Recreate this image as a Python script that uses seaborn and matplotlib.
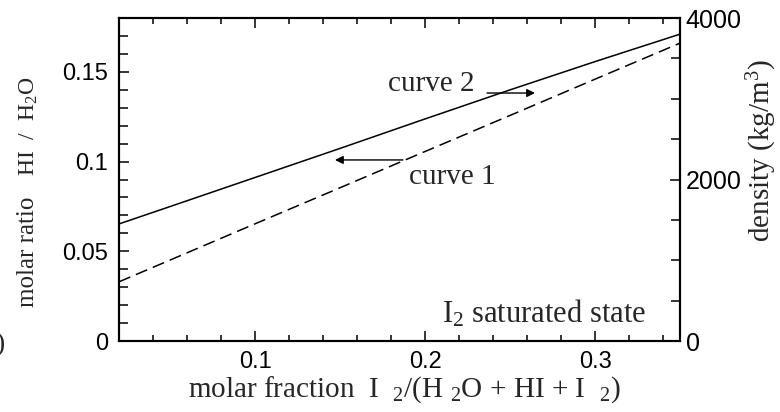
import matplotlib
matplotlib.use("Agg")
import matplotlib.pyplot as plt
import seaborn as sns
import pandas as pd
from matplotlib.ticker import MultipleLocator, FuncFormatter

# values
mole_fraction = [0.02, 0.05, 0.10, 0.15, 0.20, 0.25, 0.30, 0.35]
molar_ratio = [0.033, 0.0451, 0.0653, 0.0854, 0.1056, 0.1257, 0.1459, 0.166]   # curve 1 (left axis)
density = [1450, 1665, 2025, 2385, 2750, 3110, 3460, 3800]                     # curve 2 (right axis)

x_ticks = [0.1, 0.2, 0.3]
left_ticks = [0, 0.05, 0.1, 0.15]
right_ticks = [0, 2000, 4000]

df = pd.DataFrame({"x": mole_fraction, "ratio": molar_ratio, "density": density})

sns.set_theme(style="ticks")
plt.rcParams["font.family"] = ["Liberation Sans", "DejaVu Sans"]
plt.rcParams["mathtext.default"] = "regular"
serif = ["Liberation Serif", "DejaVu Serif"]

fig = plt.figure(figsize=(7.8, 4.12), dpi=100)
ax = fig.add_axes([0.1526, 0.1723, 0.7192, 0.784])
ax2 = ax.twinx()

sns.lineplot(data=df, x="x", y="ratio", ax=ax, color="black", lw=1.1)
ax.lines[-1].set_dashes((8, 4))
sns.lineplot(data=df, x="x", y="density", ax=ax2, color="black", lw=1.1)

ax.set_xlim(0.02, 0.35)
ax.set_ylim(0, 0.18)
ax2.set_ylim(0, 4000)

fmt = FuncFormatter(lambda v, p: "%g" % v)
ax.set_xticks(x_ticks)
ax.xaxis.set_minor_locator(MultipleLocator(0.02))
ax.set_yticks(left_ticks)
ax.yaxis.set_minor_locator(MultipleLocator(0.01))
ax.xaxis.set_major_formatter(fmt)
ax.yaxis.set_major_formatter(fmt)
ax2.set_yticks(right_ticks)
ax2.yaxis.set_minor_locator(MultipleLocator(500))
ax2.yaxis.set_major_formatter(fmt)

ax.set_xlabel("")
ax.set_ylabel("")
ax2.set_ylabel("")

for a in (ax, ax2):
    for s in a.spines.values():
        s.set_linewidth(1.5)
        s.set_visible(True)
        s.set_color("black")

ax.tick_params(axis="both", which="both", direction="in", top=True, right=False,
               labelsize=17, colors="black", width=1.1)
ax.tick_params(axis="both", which="major", length=7.5)
ax.tick_params(axis="x", which="minor", length=4)
ax.tick_params(axis="y", which="minor", length=6.5)
ax.tick_params(axis="x", which="major", pad=7)
ax.tick_params(axis="y", which="major", pad=8)
ax2.tick_params(axis="y", which="both", direction="in", labelsize=18, colors="black",
                width=1.1, pad=4)
ax2.tick_params(axis="y", which="major", length=7.5)
ax2.tick_params(axis="y", which="minor", length=6.5)

# annotations
ax2.annotate("", xy=(0.2647, 3071), xytext=(0.2365, 3071),
             arrowprops=dict(arrowstyle="-|>", color="black", lw=1.0, mutation_scale=12,
                             shrinkA=0, shrinkB=0))
ax2.text(0.2294, 3090, "curve 2", ha="right", va="baseline", fontsize=21, family=serif)
ax.annotate("", xy=(0.147, 0.1009), xytext=(0.187, 0.1009),
            arrowprops=dict(arrowstyle="-|>", color="black", lw=1.0, mutation_scale=12,
                            shrinkA=0, shrinkB=0))
ax.text(0.1906, 0.0875, "curve 1", ha="left", va="baseline", fontsize=21, family=serif)
ax.text(0.21, 0.0105, "I$_2$ saturated state", ha="left", va="baseline", fontsize=22, family=serif)

# axis labels
fig.text(404 / 780, 1 - 397 / 412, "molar fraction  I  $_2$/(H $_2$O + HI + I  $_2$)",
         ha="center", va="baseline", fontsize=21, family=serif)
fig.text(28 / 780, 1 - 252 / 412, "molar ratio", rotation=90, ha="center", va="center",
         fontsize=18, family=serif)
fig.text(29 / 780, 1 - 126 / 412, "HI  /  H$_2$O", rotation=90, ha="center", va="center",
         fontsize=17, family=serif)
fig.text(762 / 780, 1 - 151 / 412, "density (kg/m$^3$)", rotation=90, ha="center",
         va="center", fontsize=21, family=serif)
fig.text(-0.006, 1 - 345 / 412, ")", ha="left", va="center", fontsize=20, family=serif)

fig.savefig("out.png", dpi=100)
